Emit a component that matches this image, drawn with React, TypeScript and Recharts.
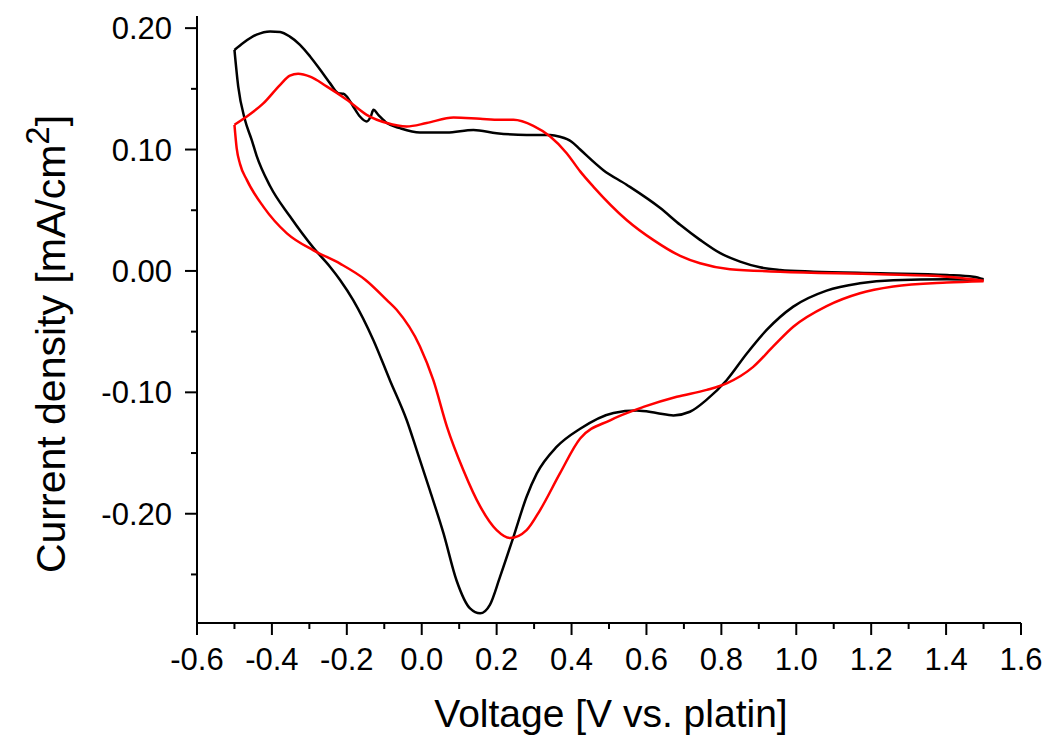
import React from "react";
import { LineChart, Line, XAxis, YAxis } from "recharts";

// Voltage [V vs. platin] and current density [mA/cm2]
const blackUpperV = [-0.5, -0.476, -0.441, -0.405, -0.378, -0.352, -0.325, -0.298, -0.271, -0.245, -0.223, -0.209, -0.2, -0.183, -0.165, -0.147, -0.136, -0.129, -0.116, -0.093, -0.058, -0.005, 0.067, 0.138, 0.2, 0.28, 0.343, 0.369, 0.4, 0.423, 0.485, 0.547, 0.636, 0.69, 0.743, 0.797, 0.85, 0.903, 0.957, 1.046, 1.224, 1.402, 1.473, 1.5];
const blackUpperJ = [0.182, 0.188, 0.1946, 0.1973, 0.1968, 0.193, 0.1863, 0.1767, 0.1657, 0.1547, 0.1465, 0.1459, 0.1437, 0.1355, 0.1272, 0.1231, 0.1272, 0.1327, 0.1286, 0.1218, 0.1176, 0.114, 0.114, 0.116, 0.1135, 0.112, 0.112, 0.1105, 0.1065, 0.1, 0.083, 0.071, 0.052, 0.038, 0.0256, 0.0146, 0.0077, 0.003, 0.0008, -0.0006, -0.0019, -0.0033, -0.0047, -0.0068];

const blackLowerV = [-0.5, -0.49, -0.472, -0.454, -0.441, -0.405, -0.352, -0.289, -0.245, -0.218, -0.183, -0.129, -0.085, -0.04, -0.013, 0.022, 0.058, 0.093, 0.129, 0.156, 0.182, 0.209, 0.245, 0.28, 0.307, 0.36, 0.423, 0.512, 0.574, 0.627, 0.672, 0.716, 0.761, 0.814, 0.868, 0.921, 0.992, 1.081, 1.17, 1.259, 1.402, 1.5];
const blackLowerJ = [0.182, 0.152, 0.1245, 0.108, 0.095, 0.07, 0.045, 0.019, 0.0035, -0.0074, -0.024, -0.057, -0.09, -0.123, -0.148, -0.181, -0.216, -0.255, -0.278, -0.282, -0.275, -0.252, -0.219, -0.186, -0.167, -0.145, -0.13, -0.117, -0.115, -0.117, -0.119, -0.116, -0.106, -0.09, -0.068, -0.0486, -0.0294, -0.0162, -0.0102, -0.0076, -0.0068, -0.0074];

const redUpperV = [-0.5, -0.467, -0.423, -0.378, -0.352, -0.33, -0.298, -0.254, -0.2, -0.147, -0.093, -0.04, 0.013, 0.085, 0.156, 0.209, 0.245, 0.298, 0.343, 0.387, 0.423, 0.458, 0.547, 0.618, 0.69, 0.743, 0.823, 0.957, 1.224, 1.402, 1.5];
const redUpperJ = [0.1204, 0.1272, 0.138, 0.1533, 0.1608, 0.1624, 0.16, 0.152, 0.141, 0.1286, 0.1218, 0.119, 0.1218, 0.1264, 0.1253, 0.1245, 0.1245, 0.1195, 0.1107, 0.097, 0.082, 0.0695, 0.042, 0.0256, 0.0124, 0.0063, 0.0014, -0.0006, -0.0027, -0.0047, -0.008];

const redLowerV = [-0.5, -0.494, -0.485, -0.467, -0.423, -0.36, -0.289, -0.218, -0.15, -0.093, -0.067, -0.005, 0.031, 0.067, 0.111, 0.156, 0.2, 0.236, 0.28, 0.316, 0.369, 0.423, 0.503, 0.592, 0.681, 0.761, 0.814, 0.885, 0.939, 0.992, 1.081, 1.17, 1.259, 1.402, 1.5];
const redLowerJ = [0.1204, 0.101, 0.088, 0.075, 0.053, 0.031, 0.017, 0.006, -0.0074, -0.024, -0.032, -0.062, -0.09, -0.128, -0.164, -0.194, -0.2135, -0.22, -0.2135, -0.197, -0.1668, -0.138, -0.123, -0.112, -0.1036, -0.098, -0.0926, -0.079, -0.062, -0.046, -0.029, -0.0184, -0.0129, -0.0096, -0.0085];

const xTicks = [-0.6, -0.5, -0.4, -0.3, -0.2, -0.1, 0, 0.1, 0.2, 0.3, 0.4, 0.5, 0.6, 0.7, 0.8, 0.9, 1.0, 1.1, 1.2, 1.3, 1.4, 1.5, 1.6];
const yTicks = [-0.25, -0.2, -0.15, -0.1, -0.05, 0, 0.05, 0.1, 0.15, 0.2];

const xTitle = "Voltage [V vs. platin]";
const yTitleMain = "Current density [mA/cm";
const yTitleSup = "2";
const yTitleEnd = "]";

const toRows = (vs: number[], js: number[]) => vs.map((v, i) => ({ v, j: js[i] }));

const FONT = "'Liberation Sans', Arial, sans-serif";

const XTick = (props: any) => {
  const { x, y, payload } = props;
  const val = payload.value as number;
  const major = Math.abs(Math.round(val * 10)) % 2 === 0;
  return (
    <g>
      <line x1={x} x2={x} y1={y} y2={y + (major ? 12 : 6)} stroke="#000" strokeWidth={2} />
      {major && (
        <text x={x} y={y + 47} textAnchor="middle" fontFamily={FONT} fontSize={31} fill="#000">
          {val.toFixed(1)}
        </text>
      )}
    </g>
  );
};

const YTick = (props: any) => {
  const { x, y, payload } = props;
  const val = payload.value as number;
  const major = Math.abs(Math.round(val * 100)) % 10 === 0;
  return (
    <g>
      <line x1={x} x2={x - (major ? 12 : 6)} y1={y} y2={y} stroke="#000" strokeWidth={2} />
      {major && (
        <text x={x - 25} y={y + 11} textAnchor="end" fontFamily={FONT} fontSize={31} fill="#000">
          {val.toFixed(2)}
        </text>
      )}
    </g>
  );
};

const XTitle = (props: any) => {
  const vb = props.viewBox || { x: 197, y: 623, width: 824 };
  return (
    <text x={vb.x + vb.width / 2 + 2} y={vb.y + 104} textAnchor="middle" fontFamily={FONT} fontSize={39} fill="#000">
      {xTitle}
    </text>
  );
};

const YTitle = () => {
  const cx = 65;
  const cy = 344;
  return (
    <text x={cx} y={cy} transform={`rotate(-90, ${cx}, ${cy})`} textAnchor="middle" fontFamily={FONT} fontSize={41} fill="#000">
      {yTitleMain}
      <tspan dy={-16} fontSize={33}>{yTitleSup}</tspan>
      <tspan dy={16}>{yTitleEnd}</tspan>
    </text>
  );
};

export default function App() {
  return (
    <div style={{ position: "absolute", left: 0, top: 0, background: "#fff" }}>
      <LineChart width={1047} height={742} margin={{ top: 16, right: 26, bottom: 0, left: 0 }}>
        <XAxis
          type="number"
          dataKey="v"
          domain={[-0.6, 1.6]}
          ticks={xTicks}
          interval={0}
          height={119}
          tickSize={0}
          tickMargin={0}
          tickLine={false}
          axisLine={{ stroke: "#000", strokeWidth: 2 }}
          tick={<XTick />}
          label={<XTitle />}
          allowDataOverflow
        />
        <YAxis
          type="number"
          dataKey="j"
          domain={[-0.29, 0.21]}
          ticks={yTicks}
          interval={0}
          width={197}
          tickSize={0}
          tickMargin={0}
          tickLine={false}
          axisLine={{ stroke: "#000", strokeWidth: 2 }}
          tick={<YTick />}
          label={<YTitle />}
          allowDataOverflow
        />
        <Line data={toRows(blackUpperV, blackUpperJ)} dataKey="j" type="monotone" stroke="#000" strokeWidth={2.5} dot={false} isAnimationActive={false} />
        <Line data={toRows(blackLowerV, blackLowerJ)} dataKey="j" type="monotone" stroke="#000" strokeWidth={2.5} dot={false} isAnimationActive={false} />
        <Line data={toRows(redUpperV, redUpperJ)} dataKey="j" type="monotone" stroke="#ff0000" strokeWidth={2.5} dot={false} isAnimationActive={false} />
        <Line data={toRows(redLowerV, redLowerJ)} dataKey="j" type="monotone" stroke="#ff0000" strokeWidth={2.5} dot={false} isAnimationActive={false} />
      </LineChart>
    </div>
  );
}
